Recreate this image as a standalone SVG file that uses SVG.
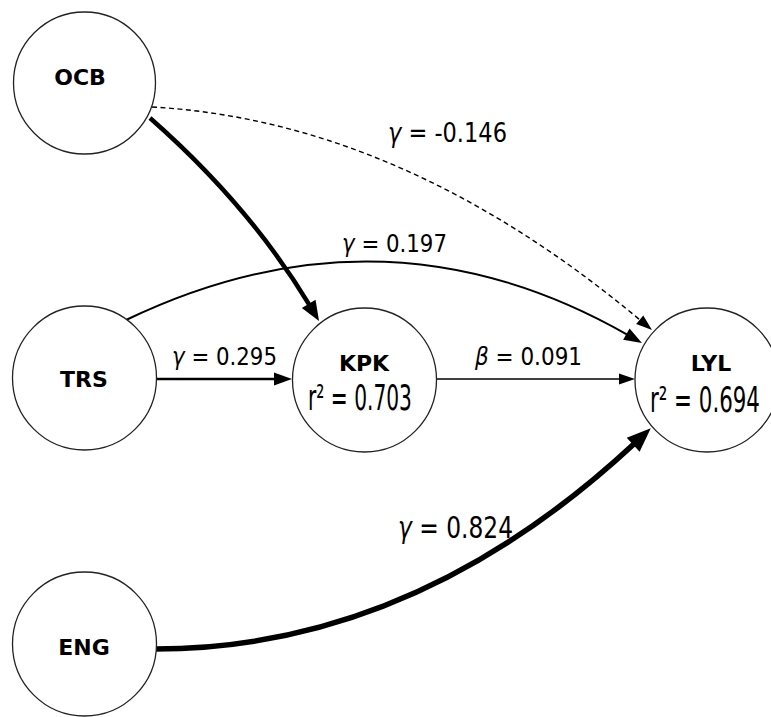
<svg xmlns="http://www.w3.org/2000/svg" width="771" height="717" viewBox="0 0 771 717">
<style>
.node{fill:#fff;stroke:#222;stroke-width:1.3}
.name{font-family:"DejaVu Sans",Verdana,sans-serif;font-weight:bold;font-size:22px;fill:#000;text-anchor:middle}
.val{font-family:"DejaVu Sans",sans-serif;fill:#000}
.r2{font-family:"DejaVu Sans",sans-serif;font-size:35px;fill:#000}
.e{fill:none;stroke:#000}
.head{fill:#000;stroke:none}
</style>
<defs>
<marker id="hXL" markerUnits="userSpaceOnUse" markerWidth="30" markerHeight="30" refX="0" refY="0" orient="auto" overflow="visible"><path class="head" d="M-1,-9.5 L23,0 L-1,9.5 Z"/></marker>
<marker id="hL" markerUnits="userSpaceOnUse" markerWidth="30" markerHeight="30" refX="0" refY="0" orient="auto" overflow="visible"><path class="head" d="M-1,-8 L19,0 L-1,8 Z"/></marker>
<marker id="hM" markerUnits="userSpaceOnUse" markerWidth="30" markerHeight="30" refX="0" refY="0" orient="auto" overflow="visible"><path class="head" d="M-1,-6.5 L17,0 L-1,6.5 Z"/></marker>
<marker id="hS" markerUnits="userSpaceOnUse" markerWidth="30" markerHeight="30" refX="0" refY="0" orient="auto" overflow="visible"><path class="head" d="M-1,-5.5 L15,0 L-1,5.5 Z"/></marker>
</defs>
<g id="connectors">
<path id="e-ocb-lyl" class="e" d="M152,107 Q402,121 640.5,320.4" stroke-width="1.4" stroke-dasharray="5,3.5" marker-end="url(#hS)"/>
<path id="e-ocb-kpk" class="e" d="M150,118 Q249,205 309.2,304.7" stroke-width="4.5" marker-end="url(#hL)"/>
<path id="e-trs-lyl" class="e" d="M126,320 Q384,196 627.2,334.6" stroke-width="2" marker-end="url(#hM)"/>
<path id="e-trs-kpk" class="e" d="M157,379 L275,379" stroke-width="2.6" marker-end="url(#hM)"/>
<path id="e-kpk-lyl" class="e" d="M437,379 L620,379" stroke-width="1.3" marker-end="url(#hS)"/>
<path id="e-eng-lyl" class="e" d="M155,649 Q413,649 633.9,444" stroke-width="5.5" marker-end="url(#hXL)"/>
<text class="val" transform="translate(388,142) scale(0.833,1)" font-size="27" textLength="142.8" lengthAdjust="spacingAndGlyphs"><tspan font-style="italic">γ</tspan> = -0.146</text>
<text class="val" transform="translate(342,252) scale(0.852,1)" font-size="25" textLength="123.2" lengthAdjust="spacingAndGlyphs"><tspan font-style="italic">γ</tspan> = 0.197</text>
<text class="val" transform="translate(172,365) scale(0.852,1)" font-size="25" textLength="123.2" lengthAdjust="spacingAndGlyphs"><tspan font-style="italic">γ</tspan> = 0.295</text>
<text class="val" transform="translate(475,365) scale(0.859,1)" font-size="25" textLength="124.6" lengthAdjust="spacingAndGlyphs"><tspan font-style="italic">β</tspan> = 0.091</text>
<text class="val" transform="translate(398,538) scale(0.778,1)" font-size="30" textLength="147.8" lengthAdjust="spacingAndGlyphs"><tspan font-style="italic">γ</tspan> = 0.824</text>
</g>
<g id="OCB">
<circle class="node" cx="84.5" cy="83" r="71"/>
<text class="name" x="80" y="85">OCB</text>
</g>
<g id="TRS">
<circle class="node" cx="84.5" cy="378" r="72"/>
<text class="name" x="84" y="387">TRS</text>
</g>
<g id="KPK">
<circle class="node" cx="364.5" cy="380" r="72"/>
<text class="name" x="364" y="371">KPK</text>
<text class="r2" transform="translate(308,410) scale(0.577,1)" textLength="180.2" lengthAdjust="spacingAndGlyphs">r² = 0.703</text>
</g>
<g id="LYL">
<circle class="node" cx="707" cy="380" r="72"/>
<text class="name" x="711" y="371">LYL</text>
<text class="r2" transform="translate(650,412) scale(0.61,1)" textLength="180.2" lengthAdjust="spacingAndGlyphs">r² = 0.694</text>
</g>
<g id="ENG">
<circle class="node" cx="84.5" cy="644" r="72"/>
<text class="name" x="84" y="655">ENG</text>
</g>
</svg>
